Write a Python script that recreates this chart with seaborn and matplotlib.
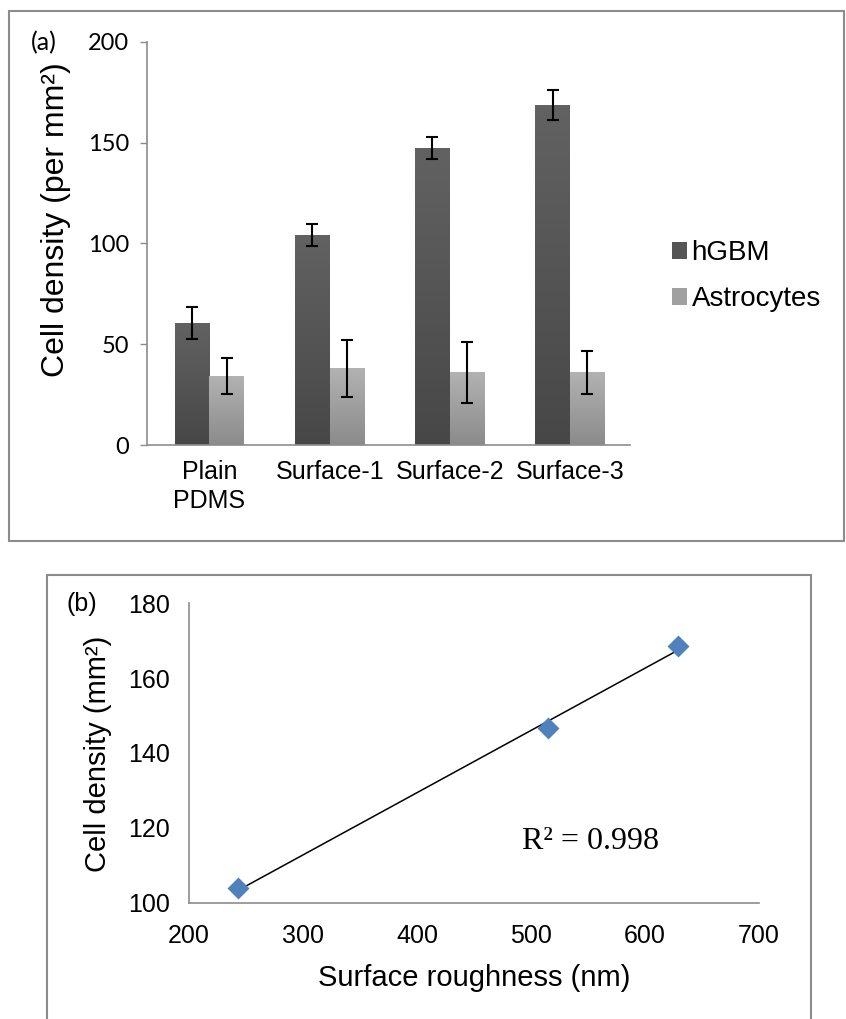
import numpy as np
import pandas as pd
import seaborn as sns
import matplotlib.pyplot as plt
from matplotlib.patches import Rectangle, Patch
from matplotlib.colors import LinearSegmentedColormap

# panel (a) data: mean cell density and error per surface
surfaces   = ["Plain\nPDMS", "Surface-1", "Surface-2", "Surface-3"]
cell_types = ["hGBM", "Astrocytes"]
hgbm_mean  = [60.7, 104.3, 147.3, 168.7]
hgbm_err   = [7.9, 5.4, 5.6, 7.4]
astro_mean = [34.1, 38.0, 36.0, 36.0]
astro_err  = [9.0, 14.0, 15.2, 10.6]

# panel (b) data: hGBM density vs surface roughness
roughness   = [243, 515, 629]
density_fit = [103.8, 146.8, 168.7]
r2_label    = "R\u00b2 = 0.998"

W, H = 846, 1019
GRAY = "#8c8c8c"

def fx(x):
    return x / W

def fy(y):
    return 1 - y / H

fig = plt.figure(figsize=(W / 100, H / 100), dpi=100)

# outer frames around the two panels
fig.patches.append(Rectangle((fx(8.5), fy(541)), fx(844) - fx(8.5), fy(11) - fy(541),
                             transform=fig.transFigure, fill=False, ec=GRAY, lw=1.5))
fig.patches.append(Rectangle((fx(47), fy(1030)), fx(811) - fx(47), fy(575) - fy(1030),
                             transform=fig.transFigure, fill=False, ec=GRAY, lw=1.5,
                             clip_on=False))

# ---------------- panel (a) ----------------
ax1 = fig.add_axes([fx(147), fy(445), fx(630) - fx(147), fy(41.7) - fy(445)])
df = pd.DataFrame({
    "surface": surfaces * 2,
    "cell": [cell_types[0]] * 4 + [cell_types[1]] * 4,
    "density": hgbm_mean + astro_mean,
})
flat = ["#535353", "#9e9e9e"]
sns.barplot(data=df, x="surface", y="density", hue="cell", hue_order=cell_types,
            order=surfaces, palette=flat, width=0.58, errorbar=None, legend=False,
            saturation=1, ax=ax1)

# vertical gradient fill inside each bar, plus error bars
grads = [("#474747", "#626262"), ("#8b8b8b", "#b2b2b2")]
errs = [hgbm_err, astro_err]
for cont, (lo, hi), err in zip(ax1.containers, grads, errs):
    cmap = LinearSegmentedColormap.from_list("g", [lo, hi])
    xs, ys = [], []
    for bar in cont:
        x0, w, h = bar.get_x(), bar.get_width(), bar.get_height()
        im = ax1.imshow(np.linspace(0, 1, 256).reshape(-1, 1), cmap=cmap, origin="lower",
                        extent=[x0, x0 + w, 0, h], aspect="auto", zorder=2.1)
        im.set_clip_path(bar)
        xs.append(x0 + w / 2)
        ys.append(h)
    ax1.errorbar(xs, ys, yerr=err, fmt="none", ecolor="black", elinewidth=1.5,
                 capsize=4.2, capthick=1.5, zorder=3)
ax1.set_ylim(0, 200)
ax1.set_xlim(-0.52, 3.5)

ax1.set_yticks([0, 50, 100, 150, 200])
ax1.set_xlabel("")
ax1.set_ylabel("")
for s in ["top", "right"]:
    ax1.spines[s].set_visible(False)
for s in ["left", "bottom"]:
    ax1.spines[s].set_color(GRAY)
    ax1.spines[s].set_linewidth(1.2)
ax1.tick_params(axis="y", length=5, color=GRAY, width=1, pad=8)
ax1.tick_params(axis="x", length=0, pad=11)
for lab in ax1.get_yticklabels():
    lab.set_fontfamily("Lato")
    lab.set_fontsize(17)
for lab in ax1.get_xticklabels():
    lab.set_fontfamily("Liberation Sans")
    lab.set_fontsize(18)
    lab.set_linespacing(1.25)

fig.text(fx(56), fy(220), "Cell density (per mm\u00b2)", rotation=90, ha="center",
         va="center", fontsize=23, family="Liberation Sans")
fig.text(fx(44), fy(43), "(a)", ha="center", va="center", fontsize=18, family="Lato")

handles = [Patch(facecolor="#555555"), Patch(facecolor="#a0a0a0")]
fig.legend(handles, cell_types, loc="center left", bbox_to_anchor=(fx(672), fy(276)),
           frameon=False, borderpad=0, borderaxespad=0, handlelength=0.55,
           handleheight=0.55, handletextpad=0.15, labelspacing=0.72,
           prop={"family": "Liberation Sans", "size": 20})

# ---------------- panel (b) ----------------
ax2 = fig.add_axes([fx(189), fy(902.7), fx(759) - fx(189), fy(603.3) - fy(902.7)])
sns.regplot(x=roughness, y=density_fit, ci=None, scatter=False, truncate=True,
            color="black", line_kws={"lw": 1.1}, ax=ax2)
sns.scatterplot(x=roughness, y=density_fit, marker="D", s=125, color="#4f81bd",
                edgecolor="#4f81bd", linewidth=0, zorder=3, ax=ax2)
ax2.set_xlim(200, 700)
ax2.set_ylim(100, 180)
ax2.set_xticks(range(200, 701, 100))
ax2.set_yticks(range(100, 181, 20))
for s in ["top", "right"]:
    ax2.spines[s].set_visible(False)
for s in ["left", "bottom"]:
    ax2.spines[s].set_color(GRAY)
    ax2.spines[s].set_linewidth(1.2)
ax2.tick_params(axis="both", length=0, labelsize=18)
ax2.tick_params(axis="x", pad=15)
ax2.tick_params(axis="y", pad=14)
for lab in ax2.get_xticklabels() + ax2.get_yticklabels():
    lab.set_fontfamily("Liberation Sans")
ax2.text(492, 116.3, r2_label, ha="left", va="center", fontsize=23,
         family="Liberation Serif")

fig.text(fx(474), fy(978), "Surface roughness (nm)", ha="center", va="center",
         fontsize=21, family="Liberation Sans")
fig.text(fx(98), fy(754), "Cell density (mm\u00b2)", rotation=90, ha="center",
         va="center", fontsize=21, family="Liberation Sans")
fig.text(fx(82), fy(604), "(b)", ha="center", va="center", fontsize=18,
         family="Liberation Sans")

fig.savefig("out.png", dpi=100)
